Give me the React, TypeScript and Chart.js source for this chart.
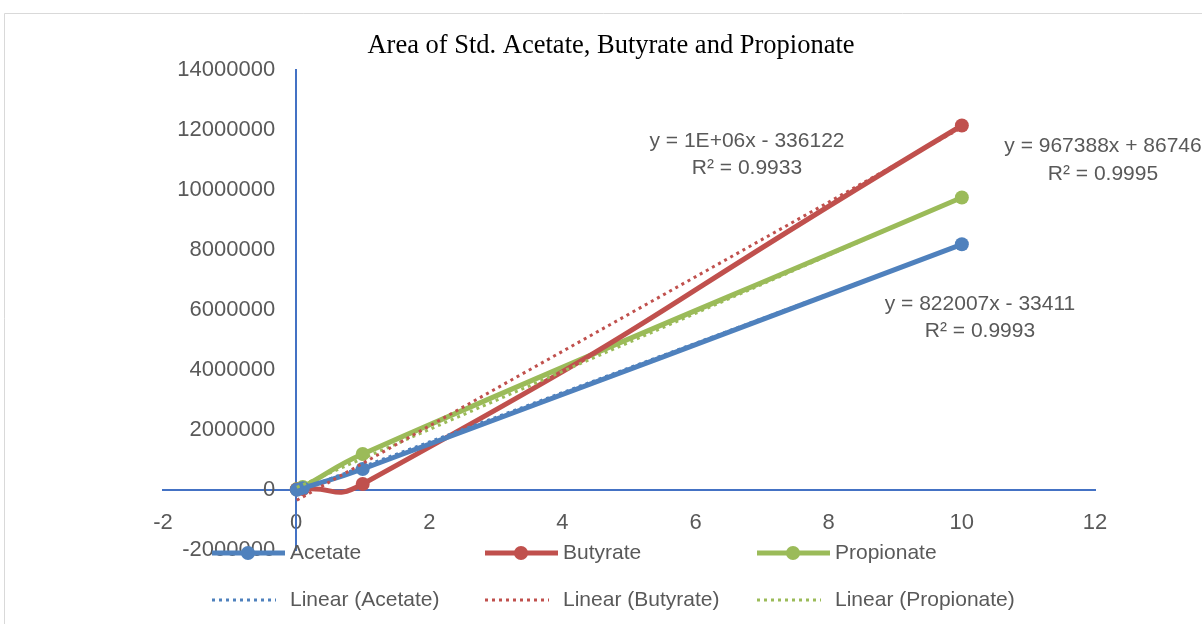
import React, { useEffect, useRef } from "react";
import { Chart, registerables } from "chart.js";

Chart.register(...registerables);

// ---- data ----
const xValues = [0.01, 0.1, 1, 10];
const acetate = [10000, 60000, 700000, 8190000];
const butyrate = [20000, 30000, 200000, 12150000];
const propionate = [30000, 100000, 1200000, 9750000];
const seriesNames = ["Acetate", "Butyrate", "Propionate"];
const seriesColors = ["#4F81BD", "#C0504D", "#9BBB59"];
const seriesTension = [0.45, 0.6, 0.45];
const xTicks = [-2, 0, 2, 4, 6, 8, 10, 12];
const yTicks = [-2000000, 0, 2000000, 4000000, 6000000, 8000000, 10000000, 12000000, 14000000];
const titleText = "Area of Std. Acetate, Butyrate and Propionate";
const equationTexts = [
  ["y = 822007x - 33411", "R² = 0.9993"],
  ["y = 1E+06x - 336122", "R² = 0.9933"],
  ["y = 967388x + 86746", "R² = 0.9995"],
];

function linearFit(xs: number[], ys: number[]) {
  const n = xs.length;
  const mx = xs.reduce((a, b) => a + b, 0) / n;
  const my = ys.reduce((a, b) => a + b, 0) / n;
  let sxy = 0, sxx = 0;
  for (let i = 0; i < n; i++) {
    sxy += (xs[i] - mx) * (ys[i] - my);
    sxx += (xs[i] - mx) * (xs[i] - mx);
  }
  const slope = sxy / sxx;
  return { slope, intercept: my - slope * mx };
}

const FONT = "'Liberation Sans', Arial, sans-serif";
const TEXT = "#595959";

const overlayPlugin = {
  id: "overlay",
  beforeDraw(chart: any) {
    const ctx = chart.ctx;
    ctx.save();
    ctx.fillStyle = "#ffffff";
    ctx.fillRect(0, 0, chart.width, chart.height);
    ctx.strokeStyle = "#D9D9D9";
    ctx.lineWidth = 1;
    ctx.beginPath();
    ctx.moveTo(4.5, chart.height);
    ctx.lineTo(4.5, 13.5);
    ctx.lineTo(chart.width, 13.5);
    ctx.stroke();
    ctx.restore();
  },
  afterDraw(chart: any) {
    const ctx = chart.ctx;
    ctx.save();
    // y-axis tick labels (placed left of the y axis which sits at x = 0)
    const xs = chart.scales.x;
    const ys = chart.scales.y;
    const axisX = xs.getPixelForValue(0);
    ctx.fillStyle = TEXT;
    ctx.font = `22px ${FONT}`;
    ctx.textAlign = "right";
    ctx.textBaseline = "middle";
    yTicks.forEach((v) => {
      ctx.fillText(String(v), axisX - 21, ys.getPixelForValue(v));
    });

    // title
    ctx.fillStyle = "#000000";
    ctx.font = "26.5px 'Liberation Serif', 'Times New Roman', serif";
    ctx.textAlign = "center";
    ctx.textBaseline = "middle";
    ctx.fillText(titleText, 611, 46);

    // equations
    ctx.fillStyle = TEXT;
    ctx.font = `21px ${FONT}`;
    const eqPos = [
      [980, 304, 331],
      [747, 141, 168],
      [1103, 146, 174],
    ];
    equationTexts.forEach((lines, i) => {
      const [cx, y1, y2] = eqPos[i];
      ctx.textAlign = "center";
      ctx.fillText(lines[0], cx, y1);
      ctx.fillText(lines[1], cx, y2);
    });

    // legend
    const cols = [212, 485, 757];
    seriesNames.forEach((name, i) => {
      const x0 = cols[i];
      ctx.strokeStyle = seriesColors[i];
      ctx.lineWidth = 5;
      ctx.setLineDash([]);
      ctx.beginPath();
      ctx.moveTo(x0, 553);
      ctx.lineTo(x0 + 73, 553);
      ctx.stroke();
      ctx.fillStyle = seriesColors[i];
      ctx.beginPath();
      ctx.arc(x0 + 36, 553, 7, 0, Math.PI * 2);
      ctx.fill();
      ctx.fillStyle = TEXT;
      ctx.textAlign = "left";
      ctx.fillText(name, x0 + 78, 553);
      ctx.strokeStyle = seriesColors[i];
      ctx.lineWidth = 3;
      ctx.setLineDash([3, 4]);
      ctx.beginPath();
      ctx.moveTo(x0, 600);
      ctx.lineTo(x0 + 64, 600);
      ctx.stroke();
      ctx.setLineDash([]);
      ctx.fillText(`Linear (${name})`, x0 + 78, 600);
    });
    ctx.restore();
  },
};

export default function App() {
  const ref = useRef<HTMLCanvasElement>(null);
  useEffect(() => {
    const series = [acetate, butyrate, propionate];
    const xmin = Math.min(...xValues);
    const xmax = Math.max(...xValues);
    const mainSets = series.map((ys, i) => ({
      label: seriesNames[i],
      data: xValues.map((x, j) => ({ x, y: ys[j] })),
      showLine: true,
      borderColor: seriesColors[i],
      backgroundColor: seriesColors[i],
      borderWidth: 5,
      pointRadius: 7,
      pointBorderWidth: 0,
      tension: seriesTension[i],
      order: 2,
    }));
    const trendSets = series.map((ys, i) => {
      const f = linearFit(xValues, ys);
      return {
        label: `Linear (${seriesNames[i]})`,
        data: [
          { x: xmin, y: f.slope * xmin + f.intercept },
          { x: xmax, y: f.slope * xmax + f.intercept },
        ],
        showLine: true,
        borderColor: seriesColors[i],
        backgroundColor: seriesColors[i],
        borderWidth: 3,
        borderDash: [3, 4],
        pointRadius: 0,
        order: 1,
      };
    });
    const chart = new Chart(ref.current!, {
      type: "scatter",
      data: { datasets: [...mainSets, ...trendSets] as any },
      options: {
        responsive: false,
        animation: false,
        layout: { padding: { left: 163, right: 107, top: 70, bottom: 74 } },
        plugins: { legend: { display: false }, title: { display: false }, tooltip: { enabled: false } },
        scales: {
          x: {
            type: "linear",
            position: { y: 0 } as any,
            min: -2,
            max: 12,
            afterBuildTicks: (axis: any) => {
              axis.ticks = xTicks.map((v) => ({ value: v }));
            },
            grid: { display: false, drawTicks: false },
            border: { display: true, color: "#4472C4", width: 2 },
            ticks: {
              color: TEXT,
              font: { family: FONT, size: 22 },
              padding: 20,
              callback: (v: any) => String(v),
            },
          },
          y: {
            type: "linear",
            position: { x: 0 } as any,
            min: -2000000,
            max: 14000000,
            afterBuildTicks: (axis: any) => {
              axis.ticks = yTicks.map((v) => ({ value: v }));
            },
            grid: { display: false, drawTicks: false },
            border: { display: true, color: "#4472C4", width: 2 },
            ticks: { display: false },
          },
        },
      },
      plugins: [overlayPlugin],
    });
    return () => chart.destroy();
  }, []);
  return (
    <div style={{ position: "absolute", left: 0, top: 0, width: 1202, height: 624 }}>
      <canvas ref={ref} width={1202} height={624} style={{ display: "block" }} />
    </div>
  );
}
